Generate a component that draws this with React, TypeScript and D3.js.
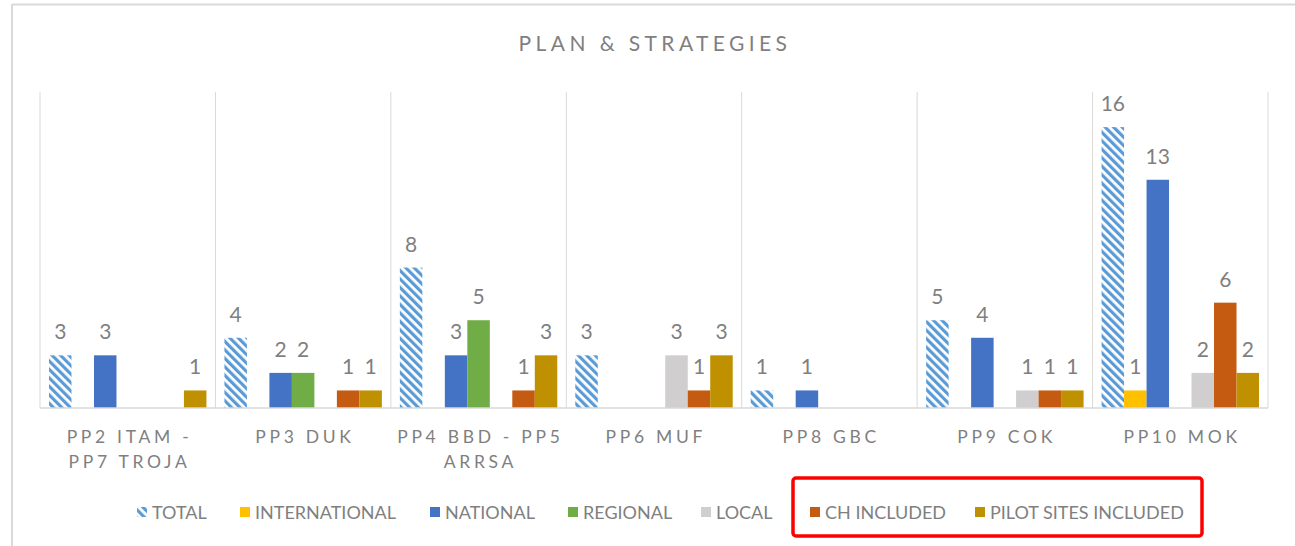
import React from "react";
import * as d3 from "d3";

const categories = ["PP2 ITAM - PP7 TROJA", "PP3 DUK", "PP4 BBD - PP5 ARRSA", "PP6 MUF", "PP8 GBC", "PP9 COK", "PP10 MOK"];
const tickLines = [["PP2 ITAM -", "PP7 TROJA"], ["PP3 DUK"], ["PP4 BBD - PP5", "ARRSA"], ["PP6 MUF"], ["PP8 GBC"], ["PP9 COK"], ["PP10 MOK"]];
const seriesNames = ["TOTAL", "INTERNATIONAL", "NATIONAL", "REGIONAL", "LOCAL", "CH INCLUDED", "PILOT SITES INCLUDED"];
const total = [3, 4, 8, 3, 1, 5, 16];
const international = [0, 0, 0, 0, 0, 0, 1];
const national = [3, 2, 3, 0, 1, 4, 13];
const regional = [0, 2, 5, 0, 0, 0, 0];
const local = [0, 0, 0, 3, 0, 1, 2];
const chIncluded = [0, 1, 1, 1, 0, 1, 6];
const pilotSites = [1, 1, 3, 3, 0, 1, 2];
const seriesValues = [total, international, national, regional, local, chIncluded, pilotSites];
const colors = ["url(#hatch)", "#FFC000", "#4472C4", "#70AD47", "#D0CECE", "#C55A11", "#BF9000"];

const W = 1295, H = 546;
const plotL = 40, plotR = 1268, plotT = 92, plotB = 408;
const FONT = "Lato, 'Open Sans', sans-serif";

export default function App() {
  const x = d3.scaleBand<string>().domain(categories).range([plotL, plotR]).paddingInner(0).paddingOuter(0);
  const xs = d3.scaleBand<string>().domain(seriesNames).range([0, x.bandwidth()]).paddingInner(0).paddingOuter(0.4);
  const y = d3.scaleLinear().domain([0, 18]).range([plotB, plotT]);

  const legendX = [137, 240, 430, 568, 701, 810, 975];

  return (
    <div style={{ position: "absolute", left: 0, top: 0 }}>
      <svg width={W} height={H} style={{ display: "block", background: "#fff" }}>
        <defs>
          <pattern id="hatch" patternUnits="userSpaceOnUse" width="6" height="6" patternTransform="rotate(-45)">
            <rect width="6" height="6" fill="#ffffff" />
            <rect x="0" y="0" width="3.2" height="6" fill="#5B9BD5" />
          </pattern>
        </defs>
        {/* chart border */}
        <line x1={12} y1={4.5} x2={W} y2={4.5} stroke="#d9d9d9" strokeWidth={2} />
        <line x1={12} y1={4} x2={12} y2={H} stroke="#d9d9d9" strokeWidth={2} />

        {/* title */}
        <text x={655} y={51} textAnchor="middle" fontFamily={FONT} fontSize={21} fill="#7f7f7f" letterSpacing={4.4}>
          PLAN &amp; STRATEGIES
        </text>

        {/* vertical gridlines at category boundaries */}
        {categories.map((c) => (
          <line key={"g" + c} x1={x(c)!} x2={x(c)!} y1={plotT} y2={plotB} stroke="#d9d9d9" strokeWidth={1} />
        ))}
        <line x1={plotR} x2={plotR} y1={plotT} y2={plotB} stroke="#d9d9d9" strokeWidth={1} />

        {/* bars */}
        {seriesNames.map((s, si) =>
          categories.map((c, ci) => {
            const v = seriesValues[si][ci];
            if (!v) return null;
            const bx = x(c)! + xs(s)!;
            return (
              <rect key={s + c} x={bx} y={y(v)} width={xs.bandwidth()} height={plotB - y(v)} fill={colors[si]} />
            );
          })
        )}

        {/* baseline */}
        <line x1={plotL} x2={plotR} y1={plotB} y2={plotB} stroke="#d9d9d9" strokeWidth={1.5} />

        {/* data labels */}
        {seriesNames.map((s, si) =>
          categories.map((c, ci) => {
            const v = seriesValues[si][ci];
            if (!v) return null;
            const cx = x(c)! + xs(s)! + xs.bandwidth() / 2;
            return (
              <text key={"l" + s + c} x={cx} y={y(v) - 16} textAnchor="middle" fontFamily={FONT} fontSize={21} fill="#7f7f7f">
                {v}
              </text>
            );
          })
        )}

        {/* category labels */}
        {categories.map((c, ci) => (
          <text key={"t" + c} textAnchor="middle" fontFamily={FONT} fontSize={17.5} fill="#7f7f7f" letterSpacing={3.7}>
            {tickLines[ci].map((ln, li) => (
              <tspan key={li} x={x(c)! + x.bandwidth() / 2 + 1.8} y={443 + li * 25}>
                {ln}
              </tspan>
            ))}
          </text>
        ))}

        {/* legend */}
        {seriesNames.map((s, si) => (
          <g key={"lg" + s} transform={`translate(${legendX[si]},512)`}>
            <rect x={0} y={-5} width={10} height={10} fill={colors[si]} />
            <text x={15} y={6.5} fontFamily={FONT} fontSize={18} fill="#7f7f7f">
              {s}
            </text>
          </g>
        ))}

        {/* red highlight box */}
        <rect x={793} y={478} width={409} height={58} rx={3} fill="none" stroke="#ff0000" strokeWidth={3.5} />
      </svg>
    </div>
  );
}
